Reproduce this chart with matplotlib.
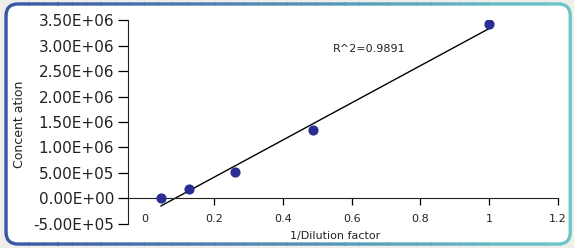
import numpy as np
import matplotlib
matplotlib.use("Agg")
import matplotlib.pyplot as plt
from matplotlib.patches import FancyBboxPatch, Rectangle
from matplotlib.colors import to_rgb

# Data
x_vals = [0.046, 0.128, 0.261, 0.488, 1.0]
y_vals = [0.0, 1.77e5, 5.1e5, 1.34e6, 3.42e6]
y_ticks = [-5e5, 0, 5e5, 1e6, 1.5e6, 2e6, 2.5e6, 3e6, 3.5e6]
y_tick_labels = ["-5.00E+05", "0.00E+00", "5.00E+05", "1.00E+06", "1.50E+06",
                 "2.00E+06", "2.50E+06", "3.00E+06", "3.50E+06"]
x_ticks = [0, 0.2, 0.4, 0.6, 0.8, 1.0, 1.2]
x_tick_labels = ["0", "0.2", "0.4", "0.6", "0.8", "1", "1.2"]
r2_text = "R^2=0.9891"

plt.rcParams['font.family'] = ['DejaVu Sans']

fig = plt.figure(figsize=(5.74, 2.48), dpi=100)
fig.patch.set_facecolor('#efeee9')

# rounded frame with blue -> teal gradient edge
fx, fy, fw, fh = 0.0105, 0.016, 0.983, 0.968
base = FancyBboxPatch((fx, fy), fw, fh,
                      boxstyle="round,pad=0,rounding_size=0.021",
                      transform=fig.transFigure, facecolor='white',
                      edgecolor='none', zorder=-10,
                      mutation_aspect=574/248)
fig.patches.append(base)
c0 = np.array(to_rgb('#3a56a3'))
c1 = np.array(to_rgb('#6cc6c9'))
nseg = 40
for i in range(nseg):
    t = i / (nseg - 1)
    col = c0 * (1 - t) + c1 * t
    p = FancyBboxPatch((fx, fy), fw, fh,
                       boxstyle="round,pad=0,rounding_size=0.021",
                       transform=fig.transFigure, facecolor='none',
                       edgecolor=col, linewidth=2.4, zorder=-9,
                       mutation_aspect=574/248)
    clip = Rectangle((i / nseg, 0), 1 / nseg + 0.002, 1, transform=fig.transFigure)
    p.set_clip_path(clip)
    fig.patches.append(p)

ax = fig.add_axes([0.223, 0.097, 0.972 - 0.223, 0.919 - 0.097])
ax.set_zorder(5)
ax.patch.set_alpha(0)
ax.set_xlim(-0.05, 1.2)
ax.set_ylim(-5e5, 3.5e6)

ax.spines['top'].set_visible(False)
ax.spines['right'].set_visible(False)
ax.spines['bottom'].set_position(('data', 0))
ax.spines['left'].set_color('#222222')
ax.spines['bottom'].set_color('#222222')

ax.set_yticks(y_ticks)
ax.set_yticklabels(y_tick_labels, fontsize=11, color='#222222')
ax.set_xticks(x_ticks)
ax.set_xticklabels(x_tick_labels, fontsize=8, color='#222222')
ax.tick_params(axis='y', direction='out', length=7, width=0.9, pad=3)
ax.tick_params(axis='x', direction='out', length=5, width=0.9, pad=6)
ax.xaxis.get_major_ticks()[0].tick1line.set_visible(False)

ax.scatter(x_vals, y_vals, s=40, color='#2a2d92', zorder=3)

coef = np.polyfit(x_vals, y_vals, 1)
xs = np.array([min(x_vals), max(x_vals)])
ax.plot(xs, np.polyval(coef, xs), color='black', linewidth=1.0, zorder=2)

ax.text(0.545, 2.93e6, r2_text, fontsize=8, color='#222222', va='center')

ax.set_xlabel("1/Dilution factor", fontsize=8, color='#222222')
ax.xaxis.set_label_coords(0.481, -0.034)
ax.set_ylabel("Concent ation", fontsize=9, color='#222222')
ax.yaxis.set_label_coords(-0.237, 0.49)

fig.savefig("out.png", dpi=100, facecolor=fig.get_facecolor())
